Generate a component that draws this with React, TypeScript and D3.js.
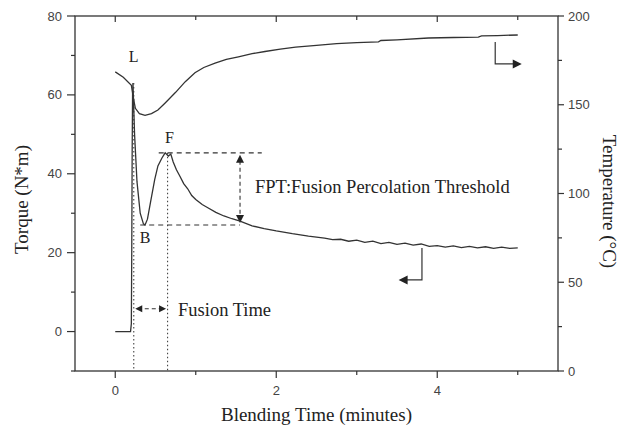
import React from "react";
import * as d3 from "d3";

// ---- Data ----
const torqueTime = [0, 0.19, 0.2, 0.205, 0.21, 0.215, 0.22, 0.24, 0.27, 0.31, 0.35, 0.37, 0.4, 0.44, 0.49, 0.53, 0.58, 0.62, 0.66, 0.69, 0.72, 0.76, 0.8, 0.85, 0.9, 0.95, 1.0, 1.08, 1.15, 1.25, 1.35, 1.45, 1.55, 1.7, 1.85, 2.0, 2.2, 2.4, 2.6, 2.7, 2.8, 2.9, 3.0, 3.1, 3.2, 3.3, 3.4, 3.5, 3.6, 3.7, 3.8, 3.9, 4.0, 4.1, 4.2, 4.3, 4.4, 4.5, 4.6, 4.7, 4.8, 4.9, 5.0];
const torqueValue = [0, 0, 2, 20, 45, 60, 63, 50, 38, 30, 27.3, 27, 28.5, 33, 38.5, 42, 44, 45.3, 44.5, 45, 43, 41, 39.5, 37.5, 36.2, 34.5, 33.5, 32.2, 31.4, 30.2, 29.3, 28.6, 28, 26.8, 26.1, 25.5, 24.8, 24.2, 23.7, 23.3, 23.4, 22.9, 23.2, 22.6, 22.9, 22.3, 22.6, 22.1, 22.4, 21.9, 22.2, 21.6, 21.8, 21.4, 21.7, 21.3, 21.6, 21.2, 21.5, 21.1, 21.4, 21.1, 21.2];

const tempTime = [0, 0.1, 0.2, 0.22, 0.25, 0.3, 0.37, 0.45, 0.53, 0.62, 0.75, 0.87, 0.99, 1.1, 1.24, 1.38, 1.53, 1.7, 1.86, 2.05, 2.24, 2.5, 2.75, 3.0, 3.27, 3.3, 3.5, 3.89, 4.2, 4.51, 4.55, 4.75, 5.0];
const tempValue = [168.5, 165.5, 161, 155, 148, 145, 144, 145, 147, 151, 157, 163, 168, 171, 173.5, 175.5, 177, 178.8, 180, 181.3, 182.5, 183.5, 184.4, 185, 185.4, 186.2, 186.6, 187.6, 187.9, 188.1, 188.8, 189, 189.3];

const xTicksMajor = [0, 2, 4];
const xTicksMinor = [1, 3, 5];
const yLeftMajor = [0, 20, 40, 60, 80];
const yLeftMinor = [-10, 10, 30, 50, 70];
const yRightMajor = [0, 50, 100, 150, 200];
const yRightMinor = [25, 75, 125, 175];

// annotation values (data units)
const L_TIME = 0.23;
const L_VALUE = 63;
const F_TIME = 0.65;
const F_VALUE = 45.3;
const B_TIME = 0.37;
const B_VALUE = 27;
const FPT_TIME = 1.55;
const FUSION_ARROW_VALUE = 5.8;

export default function App() {
  const W = 634, H = 430;
  const x = d3.scaleLinear().domain([-0.5, 5.5]).range([75, 558]);
  const yL = d3.scaleLinear().domain([-10, 80]).range([371, 16]);
  const yR = d3.scaleLinear().domain([0, 200]).range([371, 16]);

  const torqueLine = d3.line<number>().x((d, i) => x(torqueTime[i])).y((d) => yL(d))(torqueValue) || "";
  const tempLine = d3.line<number>().x((d, i) => x(tempTime[i])).y((d) => yR(d))(tempValue) || "";

  const axisColor = "#333";
  const tickFont = "'Liberation Sans', Arial, sans-serif";
  const serif = "'Liberation Serif', 'Times New Roman', serif";
  const left = 75, right = 558, top = 16, bottom = 371;

  const ah = (x0: number, y0: number, dir: "l" | "r" | "u" | "d", s = 6) => {
    const w = s * 0.5;
    if (dir === "l") return `M${x0},${y0}L${x0 + s},${y0 - w}L${x0 + s},${y0 + w}Z`;
    if (dir === "r") return `M${x0},${y0}L${x0 - s},${y0 - w}L${x0 - s},${y0 + w}Z`;
    if (dir === "u") return `M${x0},${y0}L${x0 - w},${y0 + s}L${x0 + w},${y0 + s}Z`;
    return `M${x0},${y0}L${x0 - w},${y0 - s}L${x0 + w},${y0 - s}Z`;
  };

  const fY = yL(F_VALUE), bY = yL(B_VALUE);
  const fptX = x(FPT_TIME);
  const faY = yL(FUSION_ARROW_VALUE);
  const lX = x(L_TIME), fX = x(F_TIME);

  // temperature / torque indicator arrows
  const tArrX = x(4.72), tArrY0 = yR(185.4), tArrY1 = yR(173), tArrX1 = x(5.05);
  const qArrX = x(3.81), qArrY0 = yL(21.2), qArrY1 = yL(13.1), qArrX1 = x(3.52);

  return (
    <svg width={W} height={H} style={{ position: "absolute", left: 0, top: 0, background: "#fff" }}>
      <rect x={0} y={0} width={W} height={H} fill="#fff" />
      {/* frame */}
      <rect x={left} y={top} width={right - left} height={bottom - top} fill="none" stroke={axisColor} strokeWidth={1.3} />

      {/* x ticks */}
      {xTicksMajor.map((t) => (
        <g key={"xm" + t}>
          <line x1={x(t)} x2={x(t)} y1={bottom} y2={bottom + 7} stroke={axisColor} strokeWidth={1.2} />
          <line x1={x(t)} x2={x(t)} y1={top} y2={top + 6} stroke={axisColor} strokeWidth={1.2} />
          <text x={x(t)} y={395} textAnchor="middle" fontFamily={tickFont} fontSize={13} fill="#444">{t}</text>
        </g>
      ))}
      {xTicksMinor.map((t) => (
        <g key={"xn" + t}>
          <line x1={x(t)} x2={x(t)} y1={bottom} y2={bottom + 4} stroke={axisColor} strokeWidth={1.2} />
          <line x1={x(t)} x2={x(t)} y1={top} y2={top + 4} stroke={axisColor} strokeWidth={1.2} />
        </g>
      ))}

      {/* left ticks */}
      {yLeftMajor.map((t) => (
        <g key={"yl" + t}>
          <line x1={left - 8} x2={left} y1={yL(t)} y2={yL(t)} stroke={axisColor} strokeWidth={1.2} />
          <text x={62} y={yL(t) + 4.5} textAnchor="end" fontFamily={tickFont} fontSize={13} fill="#444">{t}</text>
        </g>
      ))}
      {yLeftMinor.map((t) => (
        <line key={"yln" + t} x1={left - 4} x2={left} y1={yL(t)} y2={yL(t)} stroke={axisColor} strokeWidth={1.2} />
      ))}

      {/* right ticks */}
      {yRightMajor.map((t) => (
        <g key={"yr" + t}>
          <line x1={right} x2={right + 6} y1={yR(t)} y2={yR(t)} stroke={axisColor} strokeWidth={1.2} />
          <text x={568} y={yR(t) + 4.5} textAnchor="start" fontFamily={tickFont} fontSize={13} fill="#444">{t}</text>
        </g>
      ))}
      {yRightMinor.map((t) => (
        <line key={"yrn" + t} x1={right} x2={right + 4} y1={yR(t)} y2={yR(t)} stroke={axisColor} strokeWidth={1.2} />
      ))}

      {/* axis titles */}
      <text x={(left + right) / 2} y={421} textAnchor="middle" fontFamily={serif} fontSize={19} fill="#222">Blending Time (minutes)</text>
      <text transform={`translate(28,${(top + bottom) / 2 + 6}) rotate(-90)`} textAnchor="middle" fontFamily={serif} fontSize={19} fill="#222">Torque (N*m)</text>
      <text transform={`translate(603,${(top + bottom) / 2 + 8}) rotate(90)`} textAnchor="middle" fontFamily={serif} fontSize={19} fill="#222">Temperature (°C)</text>

      {/* dotted verticals */}
      <line x1={lX} x2={lX} y1={yL(L_VALUE)} y2={bottom} stroke="#444" strokeWidth={1.1} strokeDasharray="1.5,2.5" />
      <line x1={fX} x2={fX} y1={fY} y2={bottom} stroke="#444" strokeWidth={1.1} strokeDasharray="1.5,2.5" />

      {/* FPT dashed lines */}
      <line x1={x(0.54)} x2={x(1.82)} y1={fY} y2={fY} stroke="#333" strokeWidth={1.1} strokeDasharray="5,4" />
      <line x1={x(0.31)} x2={fptX} y1={bY} y2={bY} stroke="#333" strokeWidth={1.1} strokeDasharray="5,4" />
      <line x1={fptX} x2={fptX} y1={fY + 8} y2={bY - 8} stroke="#333" strokeWidth={1.1} strokeDasharray="4,3" />
      <path d={ah(fptX, fY + 2, "u", 8)} fill="#222" />
      <path d={ah(fptX, bY - 2, "d", 8)} fill="#222" />

      {/* fusion time arrows */}
      <line x1={lX + 4} x2={fX - 4} y1={faY} y2={faY} stroke="#333" strokeWidth={1.1} strokeDasharray="4,3" />
      <path d={ah(lX + 1.5, faY, "l", 7)} fill="#222" />
      <path d={ah(fX - 1.5, faY, "r", 7)} fill="#222" />

      {/* curves */}
      <path d={tempLine} fill="none" stroke="#333" strokeWidth={1.3} />
      <path d={torqueLine} fill="none" stroke="#333" strokeWidth={1.3} />

      {/* indicator arrows */}
      <path d={`M${tArrX},${tArrY0}L${tArrX},${tArrY1}L${tArrX1 - 6},${tArrY1}`} fill="none" stroke="#333" strokeWidth={1.2} />
      <path d={ah(tArrX1, tArrY1, "r", 9)} fill="#222" />
      <path d={`M${qArrX},${qArrY0}L${qArrX},${qArrY1}L${qArrX1 + 6},${qArrY1}`} fill="none" stroke="#333" strokeWidth={1.2} />
      <path d={ah(qArrX1, qArrY1, "l", 9)} fill="#222" />

      {/* point labels */}
      <text x={lX} y={62} textAnchor="middle" fontFamily={serif} fontSize={16} fill="#222">L</text>
      <text x={fX + 2} y={143} textAnchor="middle" fontFamily={serif} fontSize={16} fill="#222">F</text>
      <text x={x(B_TIME)} y={243} textAnchor="middle" fontFamily={serif} fontSize={16} fill="#222">B</text>

      {/* annotations */}
      <text x={255} y={193} fontFamily={serif} fontSize={18.5} fill="#222">FPT:Fusion Percolation Threshold</text>
      <text x={178} y={316} fontFamily={serif} fontSize={18.5} fill="#222">Fusion Time</text>
    </svg>
  );
}
